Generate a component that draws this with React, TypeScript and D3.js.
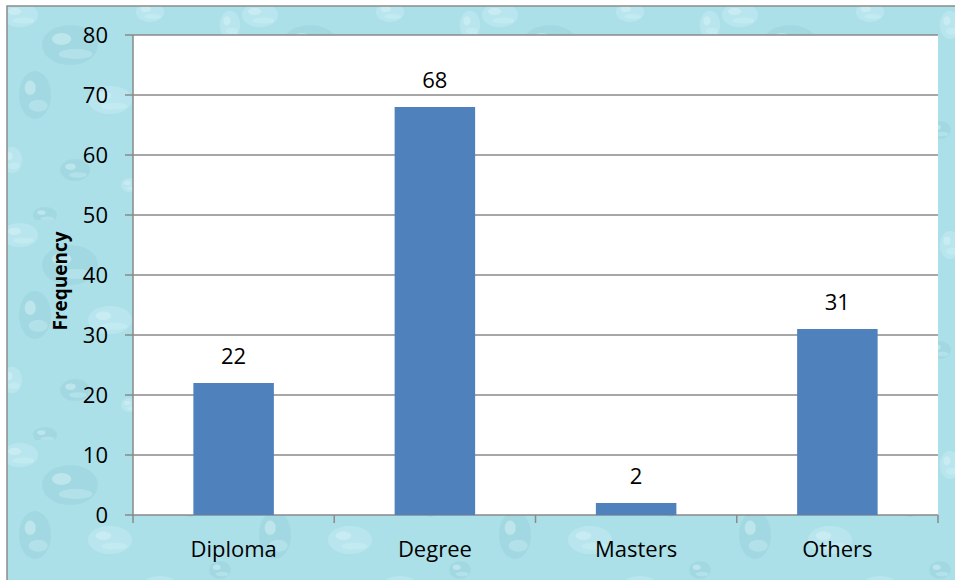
import React from "react";
import * as d3 from "d3";

const categories = ["Diploma", "Degree", "Masters", "Others"];
const values = [22, 68, 2, 31];
const yTicks = [0, 10, 20, 30, 40, 50, 60, 70, 80];
const yLabel = "Frequency";

const W = 955, H = 580;
const plot = { left: 133, right: 938, top: 35, bottom: 515 };

const drops = [
  [20, 15, 18, 12], [70, 45, 28, 20], [150, 12, 14, 10], [35, 95, 16, 24], [110, 100, 22, 14],
  [190, 60, 12, 17], [12, 160, 10, 13], [75, 170, 15, 11], [160, 150, 20, 14], [220, 130, 11, 9],
  [130, 185, 9, 7], [200, 185, 14, 10], [230, 25, 10, 14], [45, 215, 12, 8],
];

export default function App() {
  const x = d3.scaleBand().domain(categories).range([plot.left, plot.right]).paddingInner(0.6).paddingOuter(0.3);
  const band = d3.scaleBand().domain(categories).range([plot.left, plot.right]);
  const y = d3.scaleLinear().domain([0, 80]).range([plot.bottom, plot.top]);
  const font = "'Open Sans', 'Liberation Sans', sans-serif";
  const boundaries = [...categories.map((c) => band(c) as number), plot.right];
  return (
    <svg width={W} height={H} style={{ position: "absolute", left: 0, top: 0 }}>
      <defs>
        <pattern id="water" width={240} height={220} patternUnits="userSpaceOnUse">
          <rect width={240} height={220} fill="#ace0e8" />
          {drops.map((d, i) => (
            <g key={i}>
              <ellipse cx={d[0]} cy={d[1]} rx={d[2]} ry={d[3]} fill={i % 2 ? "#98d1dc" : "#c2ebf1"} opacity={0.55} />
              <ellipse cx={d[0] - d[2] * 0.3} cy={d[1] - d[3] * 0.3} rx={d[2] * 0.35} ry={d[3] * 0.3} fill="#dcf5f8" opacity={0.45} />
              <ellipse cx={d[0] + d[2] * 0.2} cy={d[1] + d[3] * 0.45} rx={d[2] * 0.6} ry={d[3] * 0.25} fill="#d0f1f5" opacity={0.35} />
            </g>
          ))}
        </pattern>
      </defs>
      <rect x={0} y={0} width={W} height={H} fill="#ffffff" />
      <rect x={7} y={6} width={W} height={H} fill="url(#water)" stroke="#8c8c8c" strokeWidth={1.5} />
      <rect x={plot.left} y={plot.top} width={plot.right - plot.left} height={plot.bottom - plot.top} fill="#ffffff" />
      {yTicks.map((t) => (
        <g key={t}>
          <line x1={plot.left - 8} x2={plot.right} y1={y(t)} y2={y(t)} stroke="#8a8a8a" strokeWidth={1.5} />
          <text x={108} y={y(t)} dy="0.36em" textAnchor="end" fontFamily={font} fontSize={22} fill="#000">{t}</text>
        </g>
      ))}
      <line x1={plot.left} x2={plot.left} y1={plot.top} y2={plot.bottom} stroke="#8a8a8a" strokeWidth={1.5} />
      {boundaries.map((b, i) => (
        <line key={i} x1={b} x2={b} y1={plot.bottom} y2={plot.bottom + 8} stroke="#8a8a8a" strokeWidth={1.5} />
      ))}
      {categories.map((c, i) => {
        const bx = x(c) as number;
        const cx = bx + x.bandwidth() / 2;
        return (
          <g key={c}>
            <rect x={bx} y={y(values[i])} width={x.bandwidth()} height={plot.bottom - y(values[i])} fill="#4f81bd" />
            <text x={cx} y={y(values[i]) - 19} textAnchor="middle" fontFamily={font} fontSize={22} fill="#000">{values[i]}</text>
            <text x={cx} y={557} textAnchor="middle" fontFamily={font} fontSize={22} fill="#000">{c}</text>
          </g>
        );
      })}
      <text transform={`translate(67,${(plot.top + plot.bottom) / 2 + 6}) rotate(-90)`} textAnchor="middle" fontFamily={font} fontWeight="bold" fontSize={19} fill="#000">{yLabel}</text>
    </svg>
  );
}
